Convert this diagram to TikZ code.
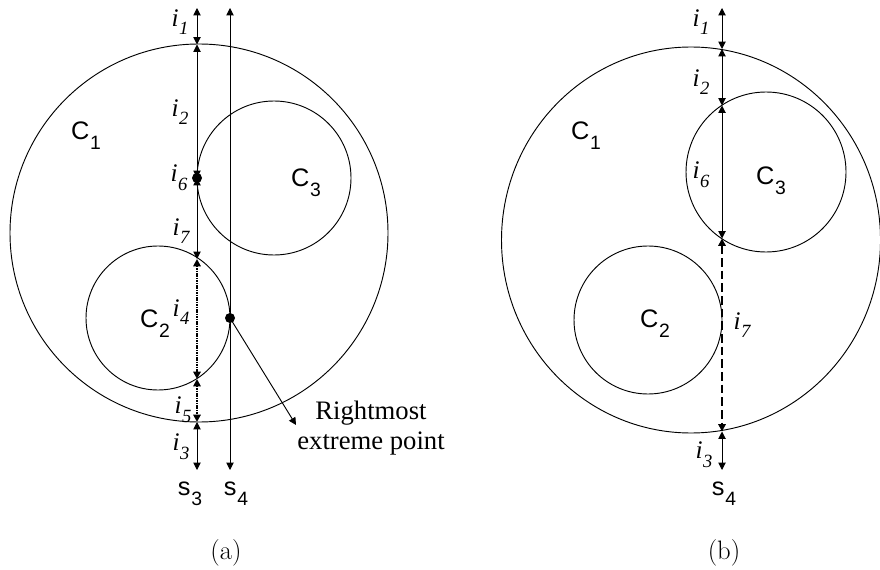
\documentclass[tikz,border=0pt]{standalone}
\usepackage{fontspec}
\newfontfamily\timesf{Liberation Serif}
\newfontfamily\arialf{Liberation Sans}
\usetikzlibrary{arrows.meta}
\newcommand{\ilab}[1]{{\timesf\itshape\fontsize{19}{19}\selectfont i\kern0.3pt\raisebox{-6.5pt}{\fontsize{14}{14}\selectfont #1}}}
\newcommand{\clab}[2]{{\arialf\fontsize{19}{19}\selectfont #1\kern0.5pt\raisebox{-7.5pt}{\fontsize{14.5}{14.5}\selectfont #2}}}
\tikzset{
  seg/.style={line width=0.7pt,{Triangle[length=5.5pt,width=5.5pt]}-{Triangle[length=5.5pt,width=5.5pt]}},
  dotseg/.style={seg,line width=1.6pt,dash pattern=on 1.1pt off 0.7pt},
  dashseg/.style={seg,line width=1.5pt,dash pattern=on 6.5pt off 3pt},
  ring/.style={line width=0.7pt},
  lab/.style={inner sep=0pt,anchor=center},
  pt/.style={circle,fill=black,inner sep=0pt,minimum size=7.5pt},
}
\begin{document}
\begin{tikzpicture}[x=0.75pt,y=-0.75pt]
\useasboundingbox (0,0) rectangle (880,570);
% ---------- (a) ----------
\coordinate (C1a) at (199,233);
\coordinate (C3a) at (274,178);
\coordinate (C2a) at (158,318);
\draw[ring] (C1a) circle[radius=189];
\draw[ring] (C3a) circle[radius=77];
\draw[ring] (C2a) circle[radius=72];
% line s3
\coordinate (a0) at (197,8);
\coordinate (a1) at (197,44.5);
\node[pt] (a2) at (197,178) {};
\coordinate (a3) at (197,259);
\coordinate (a4) at (197,379);
\coordinate (a5) at (197,422);
\coordinate (a6) at (197,470);
\draw[seg] (a0) -- (a1);
\draw[seg] (a1) -- (a2.center);
\draw[seg] (a2.center) -- (a3);
\draw[dotseg] (a3) -- (a4);
\draw[dotseg] (a4) -- (a5);
\draw[seg] (a5) -- (a6);
% line s4
\coordinate (b0) at (230,8);
\coordinate (b1) at (230,470);
\draw[seg] (b0) -- (b1);
\node[pt] (rp) at (230,318) {};
\coordinate (rpend) at (296,425);
\draw[line width=0.7pt,-{Triangle[length=5.5pt,width=5.5pt]}] (rp.center) -- (rpend);
\node[lab,align=center,font=\timesf\fontsize{20}{22.5}\selectfont] (rtxt) at (371,428) {Rightmost\\extreme point};
% labels
\node[lab] (li1) at (180,22) {\ilab{1}};
\node[lab] (li2) at (180,112) {\ilab{2}};
\node[lab] (li6) at (179,178) {\ilab{6}};
\node[lab] (li7) at (181,231) {\ilab{7}};
\node[lab] (li4) at (181,312) {\ilab{4}};
\node[lab] (li5) at (183,410) {\ilab{5}};
\node[lab] (li3) at (181,447) {\ilab{3}};
\node[lab] (ls3) at (190,494) {\clab{s}{3}};
\node[lab] (ls4) at (236,494) {\clab{s}{4}};
\node[lab] (lc1a) at (86,136) {\clab{C}{1}};
\node[lab] (lc3a) at (306,183) {\clab{C}{3}};
\node[lab] (lc2a) at (155,324) {\clab{C}{2}};
\node[lab,font=\fontsize{20}{20}\selectfont] (capa) at (226,553) {(a)};
% ---------- (b) ----------
\coordinate (C1b) at (691,240);
\coordinate (C3b) at (766,172);
\coordinate (C2b) at (648,320);
\draw[ring] (C1b) ellipse[x radius=189.5,y radius=193];
\draw[ring] (C3b) circle[radius=80];
\draw[ring] (C2b) circle[radius=74];
\coordinate (c0) at (722,8);
\coordinate (c1) at (722,49);
\coordinate (c2) at (722,105.5);
\coordinate (c3) at (722,238.5);
\coordinate (c4) at (722,431.5);
\coordinate (c5) at (722,470);
\draw[seg] (c0) -- (c1);
\draw[seg] (c1) -- (c2);
\draw[seg] (c2) -- (c3);
\draw[dashseg] (c3) -- (c4);
\draw[seg] (c4) -- (c5);
\node[lab] (ri1) at (701,22) {\ilab{1}};
\node[lab] (ri2) at (701,82) {\ilab{2}};
\node[lab] (ri6) at (701,175) {\ilab{6}};
\node[lab] (ri7) at (742,325) {\ilab{7}};
\node[lab] (ri3) at (704,455) {\ilab{3}};
\node[lab] (rs4) at (724,494) {\clab{s}{4}};
\node[lab] (lc1b) at (586,136) {\clab{C}{1}};
\node[lab] (lc3b) at (771,181) {\clab{C}{3}};
\node[lab] (lc2b) at (655,324) {\clab{C}{2}};
\node[lab,font=\fontsize{20}{20}\selectfont] (capb) at (724,553) {(b)};
\end{tikzpicture}
\end{document}
